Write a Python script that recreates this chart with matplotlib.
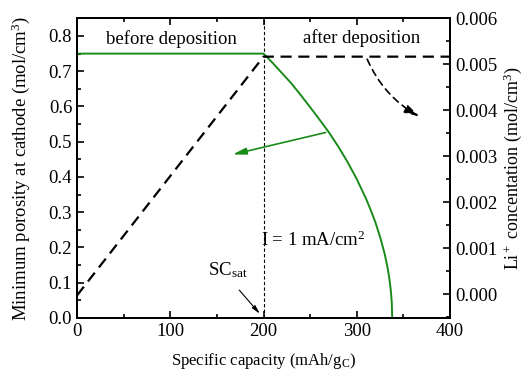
import matplotlib
matplotlib.use("Agg")
from matplotlib import pyplot as plt
from matplotlib.ticker import MultipleLocator, FormatStrFormatter

plt.rcParams['font.family'] = ['Liberation Serif', 'DejaVu Serif']
plt.rcParams['mathtext.fontset'] = 'custom'
plt.rcParams['mathtext.rm'] = 'Liberation Serif'
plt.rcParams['mathtext.it'] = 'Liberation Serif:italic'

# porosity curve (green)
cap_por = [0, 200, 210, 220, 230, 240, 250, 260, 270, 280, 290, 300, 310, 315, 320,
           325, 330, 333, 335, 336.5, 337.5, 338]
porosity = [0.75, 0.75, 0.723, 0.694, 0.665, 0.632, 0.598, 0.563, 0.527, 0.487, 0.443,
            0.394, 0.338, 0.306, 0.271, 0.230, 0.181, 0.143, 0.111, 0.078, 0.045, 0.0]

# Li+ concentration (black dashed)
cap_li = [0, 200, 400]
li_conc = [-0.00003, 0.00516, 0.00516]

sc_sat = 200

fig = plt.figure(figsize=(5.25, 3.72), dpi=100)
ax = fig.add_axes([0.1467, 0.1452, 0.7105, 0.8064])
ax2 = ax.twinx()

ax.plot(cap_por, porosity, color='#1a8a1a', lw=1.4, zorder=3)
ax2.plot(cap_li, li_conc, color='black', lw=1.6, dashes=(5, 3))
ax.axvline(sc_sat, color='black', lw=0.8, dashes=(3, 2))

ax.set_xlim(0, 400)
ax.set_ylim(0, 0.851)
ax2.set_ylim(-0.00052, 0.006)

ax.xaxis.set_major_locator(MultipleLocator(100))
ax.xaxis.set_minor_locator(MultipleLocator(50))
ax.yaxis.set_major_locator(MultipleLocator(0.1))
ax.yaxis.set_minor_locator(MultipleLocator(0.05))
ax.yaxis.set_major_formatter(FormatStrFormatter('%.1f'))
ax2.yaxis.set_major_locator(MultipleLocator(0.001))
ax2.yaxis.set_minor_locator(MultipleLocator(0.0005))
ax2.yaxis.set_major_formatter(FormatStrFormatter('%.3f'))

ax.tick_params(which='both', direction='in', top=True, right=False, labelsize=13.5, width=1.2)
ax.tick_params(which='major', length=5)
ax.tick_params(which='minor', length=3)
ax2.tick_params(which='both', direction='in', labelsize=13.5, width=1.2)
ax2.tick_params(which='major', length=5)
ax2.tick_params(which='minor', length=3)
for a in (ax, ax2):
    for s in a.spines.values():
        s.set_linewidth(1.4)

ax.set_xlabel('Specific capacity (mAh/g$_\\mathrm{C}$)', fontsize=12, labelpad=8)
ax.set_ylabel('Minimum porosity at cathode (mol/cm$^3$)', fontsize=13.5, labelpad=12)
ax2.set_ylabel('Li$^+$ concentation (mol/cm$^3$)', fontsize=13, labelpad=3)

ax.text(101, 0.791, 'before deposition', fontsize=13.5, ha='center', va='center')
ax.text(305, 0.794, 'after deposition', fontsize=13.5, ha='center', va='center')
ax.text(253, 0.22, 'I = 1 mA/cm$^2$', fontsize=13.5, ha='center', va='center')
ax.text(162, 0.136, 'SC$_\\mathrm{sat}$', fontsize=13.5, ha='center', va='center')

# arrows
ax.annotate('', xy=(164, 0.462), xytext=(269.5, 0.528),
            arrowprops=dict(arrowstyle='-|>,head_length=0.8,head_width=0.2', color='#1a8a1a', lw=1.2))
ax.annotate('', xy=(198, 0.006), xytext=(172, 0.085),
            arrowprops=dict(arrowstyle='-|>,head_length=0.5,head_width=0.12', color='black', lw=0.8))
ax2.annotate('', xy=(370, 0.00383), xytext=(310, 0.00516),
             arrowprops=dict(arrowstyle='-|>,head_length=0.9,head_width=0.25', color='black', lw=1.2,
                             linestyle=(0, (4, 3)), connectionstyle='arc3,rad=0.18'))

fig.savefig('out.png', dpi=100)
